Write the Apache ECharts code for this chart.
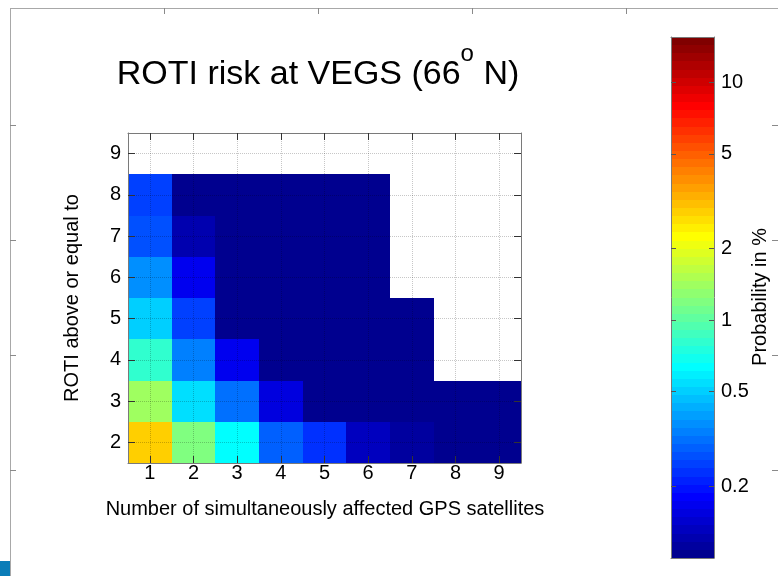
<!DOCTYPE html>
<html>
<head>
<meta charset="utf-8">
<script src="https://cdn.jsdelivr.net/npm/echarts@6/dist/echarts.min.js"></script>
<style>
  html, body { margin: 0; padding: 0; background: #fff; }
  #chart { width: 778px; height: 576px; }
</style>
</head>
<body>
<div id="chart"></div>
<script>
// Number of simultaneously affected GPS satellites (x) and ROTI thresholds (y)
const satellites = [1, 2, 3, 4, 5, 6, 7, 8, 9];
const rotiLevels = [2, 3, 4, 5, 6, 7, 8, 9];

// Probability in % for each ROTI threshold, one value per satellite count (null = no data)
const roti2 = [2.85, 1.20, 0.64, 0.29, 0.23, 0.132, 0.113, 0.10, 0.10];
const roti3 = [1.40, 0.54, 0.31, 0.154, 0.10, 0.10, 0.10, 0.10, 0.10];
const roti4 = [0.81, 0.34, 0.167, 0.10, 0.10, 0.10, 0.10, null, null];
const roti5 = [0.50, 0.25, 0.10, 0.10, 0.10, 0.10, 0.10, null, null];
const roti6 = [0.37, 0.167, 0.10, 0.10, 0.10, 0.10, null, null, null];
const roti7 = [0.27, 0.122, 0.10, 0.10, 0.10, 0.10, null, null, null];
const roti8 = [0.25, 0.10, 0.10, 0.10, 0.10, 0.10, null, null, null];
const roti9 = [null, null, null, null, null, null, null, null, null];

// Colour scale (logarithmic) and its tick labels
const probRange = [0.1, 15.5];
const colorbarTicks = [0.2, 0.5, 1, 2, 5, 10];

const FONT = "'Liberation Sans', Arial, Helvetica, sans-serif";

// 64-level jet colormap, index 1..64
function jet(i) {
  const c = v => Math.round(Math.max(0, Math.min(1, v)) * 255);
  let r, g, b;
  if (i <= 24) r = 0; else if (i <= 40) r = (i - 24) / 16; else if (i <= 56) r = 1; else r = (72 - i) / 16;
  if (i <= 8) g = 0; else if (i <= 24) g = (i - 8) / 16; else if (i <= 40) g = 1; else if (i <= 55) g = (56 - i) / 16; else g = 0;
  if (i <= 8) b = (i + 8) / 16; else if (i <= 24) b = 1; else if (i <= 39) b = (40 - i) / 16; else b = 0;
  return 'rgb(' + c(r) + ',' + c(g) + ',' + c(b) + ')';
}

const L0 = Math.log10(probRange[0]);
const L1 = Math.log10(probRange[1]);
const NLEV = 64;
const step = (L1 - L0) / NLEV;

// visualMap pieces, one per colormap level (values outside the range clamp to the end colours)
const pieces = [];
for (let k = 0; k < NLEV; k++) {
  const p = { color: jet(k + 1) };
  if (k > 0) p.gte = L0 + k * step - 1e-9;
  if (k < NLEV - 1) p.lt = L0 + (k + 1) * step - 1e-9;
  pieces.push(p);
}

// Cells: [satellites, roti, log10(probability), probability]
const table = [roti2, roti3, roti4, roti5, roti6, roti7, roti8, roti9];
const cells = [];
table.forEach((row, r) => row.forEach((p, c) => {
  if (p != null) cells.push([satellites[c], rotiLevels[r], Math.log10(p), p]);
}));

// Colour bar bands: [lower, upper, middle] in log10 units
const bands = [];
for (let k = 0; k < NLEV; k++) {
  const lo = L0 + k * step, hi = lo + step;
  bands.push([lo, hi, (lo + hi) / 2]);
}

const tickColor = '#333';
const boxColor = '#7a7a7a';
const labelStyle = { fontSize: 20, color: '#000', fontFamily: FONT };

function mainXAxis(pos, withLabels) {
  return {
    type: 'value', gridIndex: 0, position: pos, min: 0.5, max: 9.5, z: 5,
    axisLine: { show: true, onZero: false, lineStyle: { color: boxColor, width: 1 } },
    axisTick: { show: true, inside: true, length: 7, customValues: satellites, lineStyle: { color: tickColor } },
    axisLabel: Object.assign({ show: withLabels, customValues: satellites, margin: 0 }, labelStyle),
    splitLine: { show: withLabels, lineStyle: { type: 'dotted', color: 'rgba(0,0,0,0.22)', width: 1 } }
  };
}
function mainYAxis(pos, withLabels) {
  return {
    type: 'value', gridIndex: 0, position: pos, min: 1.5, max: 9.5, z: 5,
    axisLine: { show: true, onZero: false, lineStyle: { color: boxColor, width: 1 } },
    axisTick: { show: true, inside: true, length: 7, customValues: rotiLevels, lineStyle: { color: tickColor } },
    axisLabel: Object.assign({ show: withLabels, customValues: rotiLevels, margin: 7 }, labelStyle),
    splitLine: { show: withLabels, lineStyle: { type: 'dotted', color: 'rgba(0,0,0,0.22)', width: 1 } }
  };
}
function barXAxis(pos) {
  return {
    type: 'value', gridIndex: 1, position: pos, min: 0, max: 1, z: 5,
    axisLine: { show: true, onZero: false, lineStyle: { color: boxColor } },
    axisTick: { show: false }, axisLabel: { show: false }, splitLine: { show: false }
  };
}
const logTicks = colorbarTicks.map(v => Math.log10(v));
function barYAxis(pos, withLabels) {
  return {
    type: 'value', gridIndex: 1, position: pos, min: L0, max: L1, z: 5,
    axisLine: { show: true, onZero: false, lineStyle: { color: boxColor } },
    axisTick: { show: true, inside: true, length: 5, customValues: logTicks, lineStyle: { color: '#555' } },
    axisLabel: Object.assign({
      show: withLabels, customValues: logTicks, margin: 7,
      formatter: v => String(+Math.pow(10, v).toPrecision(2))
    }, labelStyle),
    splitLine: { show: false }
  };
}

const frameColor = '#a8a8a8';
const frameTick = '#8a8a8a';
const frame = [
  { type: 'line', shape: { x1: 10, y1: 8.5, x2: 778, y2: 8.5 }, style: { stroke: frameColor, lineWidth: 1 } },
  { type: 'line', shape: { x1: 10.5, y1: 8, x2: 10.5, y2: 576 }, style: { stroke: frameColor, lineWidth: 1 } }
];
[164.5, 318.5, 472.5, 626.5].forEach(x => frame.push(
  { type: 'line', shape: { x1: x, y1: 8, x2: x, y2: 14 }, style: { stroke: frameTick, lineWidth: 1 } }));
[125.5, 240.5, 355.5, 470.5].forEach(y => {
  frame.push({ type: 'line', shape: { x1: 10, y1: y, x2: 16, y2: y }, style: { stroke: frameTick, lineWidth: 1 } });
  frame.push({ type: 'line', shape: { x1: 772, y1: y, x2: 778, y2: y }, style: { stroke: frameTick, lineWidth: 1 } });
});
frame.push({ type: 'rect', shape: { x: 0, y: 561, width: 10, height: 15 }, style: { fill: '#0b7db8' } });

const chart = echarts.init(document.getElementById('chart'), null, { renderer: 'canvas' });
chart.setOption({
  backgroundColor: '#fff',
  animation: false,
  grid: [
    { left: 128, top: 133, width: 393, height: 330 },
    { left: 671, top: 37, width: 43, height: 521 }
  ],
  xAxis: [mainXAxis('bottom', true), mainXAxis('top', false), barXAxis('bottom'), barXAxis('top')],
  yAxis: [mainYAxis('left', true), mainYAxis('right', false), barYAxis('left', false), barYAxis('right', true)],
  visualMap: {
    type: 'piecewise', show: false, dimension: 2, seriesIndex: [0, 1], pieces: pieces
  },
  series: [
    {
      type: 'custom', xAxisIndex: 0, yAxisIndex: 0, data: cells, encode: { x: 0, y: 1 },
      renderItem: function (params, api) {
        const x = api.value(0), y = api.value(1);
        const a = api.coord([x - 0.5, y + 0.5]);
        const b = api.coord([x + 0.5, y - 0.5]);
        const x0 = Math.round(a[0]), y0 = Math.round(a[1]);
        return {
          type: 'rect',
          shape: { x: x0, y: y0, width: Math.round(b[0]) - x0, height: Math.round(b[1]) - y0 },
          style: { fill: api.visual('color') }
        };
      }
    },
    {
      type: 'custom', xAxisIndex: 2, yAxisIndex: 2, data: bands, encode: { y: [0, 1] },
      renderItem: function (params, api) {
        const a = api.coord([0, api.value(1)]);
        const b = api.coord([1, api.value(0)]);
        const x0 = Math.round(a[0]), y0 = Math.round(a[1]);
        return {
          type: 'rect',
          shape: { x: x0, y: y0, width: Math.round(b[0]) - x0, height: Math.round(b[1]) - y0 },
          style: { fill: api.visual('color') }
        };
      }
    }
  ],
  graphic: frame.concat([
    {
      type: 'text', x: 318, y: 67, z: 10,
      style: {
        text: '{m|ROTI risk at VEGS (66}{s|o}{m| N)}',
        align: 'center', verticalAlign: 'middle', fill: '#000',
        rich: {
          m: { fontSize: 34, fontFamily: FONT, verticalAlign: 'bottom' },
          s: { fontSize: 24, fontFamily: FONT, verticalAlign: 'bottom', padding: [0, 0, 26, 0] }
        }
      }
    },
    {
      type: 'text', x: 325, y: 509, z: 10,
      style: { text: 'Number of simultaneously affected GPS satellites', font: '20px ' + FONT, fill: '#000', align: 'center', verticalAlign: 'middle' }
    },
    {
      type: 'text', x: 72, y: 298, rotation: Math.PI / 2, z: 10,
      style: { text: 'ROTI above or equal to', font: '20px ' + FONT, fill: '#000', align: 'center', verticalAlign: 'middle' }
    },
    {
      type: 'text', x: 760, y: 297, rotation: Math.PI / 2, z: 10,
      style: { text: 'Probability in %', font: '20px ' + FONT, fill: '#000', align: 'center', verticalAlign: 'middle' }
    }
  ])
});
</script>
</body>
</html>
